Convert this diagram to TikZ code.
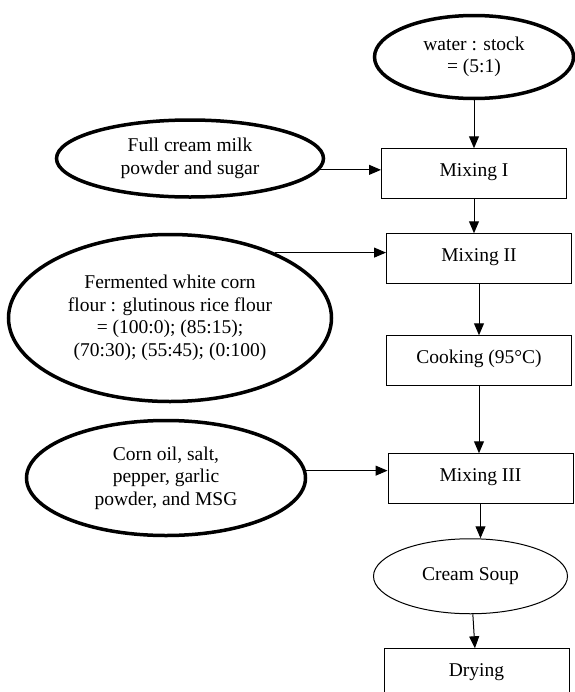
\documentclass[tikz,border=0pt]{standalone}
\usepackage{fontspec}
\setmainfont{Liberation Serif}
\usetikzlibrary{arrows.meta, shapes.geometric, positioning}
\tikzset{%
  >={Triangle[width=6pt,length=7.2pt]},
  % Specifications for style of nodes:
        base/.style = {draw=black, line width=0.6pt, align=center,
                           font=\fontsize{11.7}{13.5}\selectfont},
        inbox/.style = {ellipse, base, line width=2.1pt, inner sep=0pt},
        process/.style = {rectangle, base, minimum width=111pt,
                           minimum height=30pt, text height=9pt, text depth=6pt},
        product/.style = {ellipse, base, inner sep=0pt}
}

\begin{document}
\begin{tikzpicture}[line width=0.6pt]
  \useasboundingbox (0,0) rectangle (345pt,-415.2pt);
  % Specification of nodes (position, etc.)
    \node (water)   [inbox, minimum width=119.4pt, minimum height=49.8pt]
                    at (284.4pt,-34.2pt) {water : stock\\= (5:1)};
    \node (mix1)    [process, below=28.8pt of water] {Mixing I};
    \node (mix2)    [process, below=20.4pt of mix1, xshift=3pt] {Mixing II};
    \node (cook)    [process, below=30.6pt of mix2] {Cooking (95°C)};
    \node (mix3)    [process, below=40.2pt of cook, xshift=0.9pt] {Mixing III};
    \node (soup)    [product, minimum width=116.4pt, minimum height=45pt,
                     below=20.4pt of mix3, xshift=-6pt] {Cream Soup};
    \node (drying)  [process, below=20.4pt of soup, xshift=3.6pt] {Drying};

    \node (milk)    [inbox, minimum width=160.2pt, minimum height=46.2pt]
                    at (114pt,-95.1pt) {Full cream milk\\powder and sugar};
    \node (flour)   [inbox, minimum width=193.8pt, minimum height=100.2pt]
                    at (102pt,-190.8pt) {Fermented white corn\\flour : glutinous rice flour\\= (100:0); (85:15);\\(70:30); (55:45); (0:100)};
    \node (oil)     [inbox, minimum width=167.4pt, minimum height=69pt]
                    at (99.6pt,-286.8pt) {Corn oil, salt,\\pepper, garlic\\powder, and MSG};

  % Specification of lines between nodes specified above
  \draw[->]     (water) -- (water |- mix1.north);
  \draw[->]     (mix1) -- (mix1 |- mix2.north);
  \draw[->]     (mix2) -- (cook);
  \draw[->]     (cook) -- (cook |- mix3.north);
  \draw[->]     (mix3) -- (mix3 |- soup.north);
  \draw[->]     (soup) -- (drying);
  \draw[->]     (milk.-5) -- (milk.-5 -| mix1.west);
  \draw[->]     (flour.32) -- (flour.32 -| mix2.west);
  \draw[->]     (oil.3) -- (oil.3 -| mix3.west);
\end{tikzpicture}
\end{document}
